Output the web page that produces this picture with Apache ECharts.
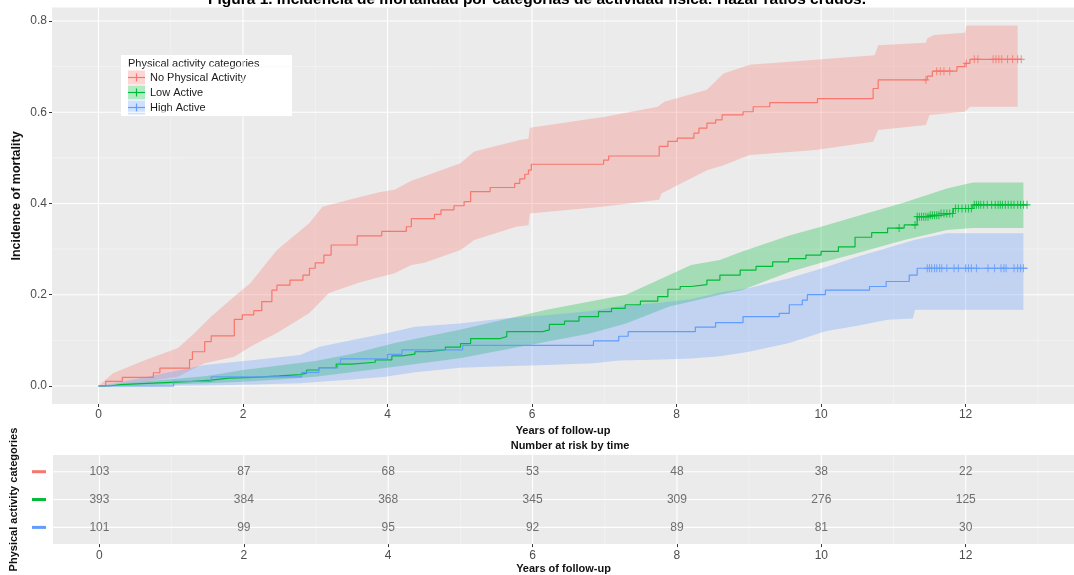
<!DOCTYPE html>
<html><head><meta charset="utf-8">
<script src="https://cdn.jsdelivr.net/npm/echarts@6/dist/echarts.min.js"></script>
<style>html,body{margin:0;padding:0;background:#fff}#c{width:1074px;height:575px}</style>
</head><body><div id="c"></div>
<script>
// ---------- text ----------
const chartTitle = "Figura 1. Incidencia de mortalidad por categorías de actividad física: Hazar ratios crudos.";
const categories = ["No Physical Activity", "Low Active", "High Active"];
const legendTitle = "Physical activity categories";
const yTitle = "Incidence of mortality";
const colors = ["#F8766D", "#00BA38", "#619CFF"];
const bandFills = ["rgba(248,118,109,0.3)", "rgba(0,186,56,0.3)", "rgba(97,156,255,0.3)"];

// ---------- axes ----------
const xMin = -0.643, xMax = 13.5;
const yMin = -0.0395, yMax = 0.8295;
const xMajor = [0, 2, 4, 6, 8, 10, 12];
const xMinor = [1, 3, 5, 7, 9, 11, 13];
const yMajor = [0, 0.2, 0.4, 0.6, 0.8];
const yMinor = [0.1, 0.3, 0.5, 0.7];

// ---------- No Physical Activity ----------
const noPA_t = [0, 0.1, 0.33, 0.76, 0.85, 1.26, 1.3, 1.47, 1.56, 1.88, 1.99, 2.15, 2.26, 2.4, 2.47, 2.65, 2.83, 2.92, 3.0, 3.12, 3.22, 3.58, 3.92, 4.26, 4.33, 4.65, 4.74, 4.92, 5.06, 5.15, 5.42, 5.76, 5.83, 5.9, 5.95, 5.99, 6.99, 7.06, 7.76, 7.88, 8.01, 8.24, 8.31, 8.42, 8.54, 8.63, 8.92, 9.06, 9.29, 9.95, 10.72, 10.79, 11.47, 11.54, 11.88, 11.99, 12.06, 12.77];
const noPA_v = [0, 0.01, 0.019, 0.029, 0.039, 0.058, 0.075, 0.097, 0.11, 0.146, 0.156, 0.165, 0.185, 0.21, 0.221, 0.232, 0.243, 0.258, 0.27, 0.287, 0.309, 0.329, 0.339, 0.349, 0.367, 0.376, 0.386, 0.395, 0.404, 0.426, 0.435, 0.444, 0.454, 0.464, 0.473, 0.486, 0.495, 0.504, 0.525, 0.536, 0.543, 0.554, 0.565, 0.576, 0.583, 0.594, 0.601, 0.612, 0.621, 0.63, 0.652, 0.671, 0.679, 0.69, 0.70, 0.707, 0.716, 0.716];
const noPA_upT = [0, 0.2, 0.65, 1.1, 1.33, 1.56, 1.88, 2.1, 2.47, 2.92, 3.1, 3.51, 3.9, 4.1, 4.33, 4.55, 5.01, 5.2, 5.83, 5.95, 5.97, 7.01, 7.74, 7.83, 8.42, 8.65, 9.01, 9.92, 10.74, 10.79, 11.45, 11.47, 11.56, 11.99, 12.01, 12.72];
const noPA_upV = [0, 0.028, 0.057, 0.083, 0.116, 0.152, 0.196, 0.225, 0.298, 0.357, 0.393, 0.41, 0.425, 0.43, 0.45, 0.462, 0.488, 0.514, 0.539, 0.542, 0.566, 0.59, 0.612, 0.623, 0.649, 0.685, 0.704, 0.715, 0.725, 0.747, 0.752, 0.762, 0.769, 0.774, 0.79, 0.79];
const noPA_loT = [0, 0.2, 0.65, 1.1, 1.28, 1.47, 1.88, 2.1, 2.47, 2.92, 3.19, 3.6, 3.92, 4.1, 4.33, 4.51, 5.01, 5.2, 5.78, 5.95, 5.97, 6.97, 7.76, 7.79, 8.42, 8.65, 9.01, 9.92, 10.72, 10.79, 11.45, 11.5, 11.99, 12.06, 12.72];
const noPA_loV = [0, 0.003, 0.01, 0.02, 0.035, 0.05, 0.064, 0.086, 0.116, 0.16, 0.204, 0.226, 0.24, 0.247, 0.265, 0.27, 0.298, 0.32, 0.349, 0.352, 0.378, 0.393, 0.408, 0.422, 0.473, 0.484, 0.506, 0.517, 0.535, 0.561, 0.572, 0.594, 0.601, 0.612, 0.612];
const noPA_censor = [11.45, 11.6, 11.65, 11.7, 11.78, 12.01, 12.12, 12.17, 12.38, 12.42, 12.46, 12.5, 12.58, 12.65, 12.72, 12.77];

// ---------- Low Active ----------
const low_t = [0, 0.15, 0.3, 0.6, 1.0, 1.3, 1.56, 1.8, 2.15, 2.5, 2.79, 2.88, 3.05, 3.29, 3.5, 3.83, 4.06, 4.2, 4.38, 4.55, 4.8, 5.01, 5.15, 5.56, 5.65, 6.15, 6.24, 6.45, 6.65, 6.92, 7.1, 7.29, 7.5, 7.74, 7.88, 8.05, 8.2, 8.42, 8.6, 8.88, 9.1, 9.33, 9.55, 9.79, 10.0, 10.24, 10.47, 10.7, 10.92, 11.15, 11.33, 11.5, 11.65, 11.83, 12.1, 12.86];
const low_v = [0, 0.003, 0.005, 0.008, 0.01, 0.013, 0.017, 0.019, 0.022, 0.025, 0.028, 0.035, 0.04, 0.048, 0.052, 0.057, 0.066, 0.07, 0.075, 0.079, 0.085, 0.093, 0.104, 0.108, 0.119, 0.123, 0.135, 0.142, 0.152, 0.163, 0.17, 0.178, 0.186, 0.196, 0.212, 0.218, 0.222, 0.232, 0.243, 0.254, 0.262, 0.272, 0.279, 0.287, 0.295, 0.305, 0.326, 0.336, 0.346, 0.353, 0.371, 0.374, 0.378, 0.389, 0.397, 0.397];
const low_upT = [0, 0.5, 1.0, 1.5, 2.0, 2.5, 3.0, 3.5, 4.1, 5.0, 5.6, 6.2, 6.8, 7.3, 7.9, 8.2, 8.6, 8.9, 9.56, 10.0, 10.47, 11.15, 11.74, 12.1, 12.8];
const low_upV = [0, 0.008, 0.015, 0.022, 0.035, 0.045, 0.055, 0.07, 0.094, 0.123, 0.145, 0.167, 0.185, 0.2, 0.243, 0.265, 0.276, 0.294, 0.33, 0.349, 0.371, 0.402, 0.433, 0.446, 0.446];
const low_loT = [0, 0.5, 1.0, 1.5, 2.0, 2.5, 3.0, 3.5, 4.1, 5.0, 5.6, 6.2, 6.8, 7.3, 7.9, 8.2, 8.6, 8.9, 9.56, 10.0, 10.47, 11.15, 11.74, 12.1, 12.8];
const low_loV = [0, 0.001, 0.003, 0.006, 0.009, 0.014, 0.02, 0.03, 0.042, 0.061, 0.079, 0.097, 0.115, 0.137, 0.174, 0.185, 0.2, 0.21, 0.25, 0.27, 0.29, 0.32, 0.342, 0.346, 0.346];
const low_censor = [11.08, 11.3, 11.33, 11.36, 11.39, 11.42, 11.45, 11.48, 11.51, 11.54, 11.57, 11.6, 11.63, 11.66, 11.7, 11.74, 11.78, 11.82, 11.86, 11.9, 11.95, 12.0, 12.04, 12.08, 12.12, 12.15, 12.18, 12.21, 12.25, 12.3, 12.36, 12.41, 12.45, 12.48, 12.51, 12.55, 12.59, 12.63, 12.67, 12.72, 12.76, 12.8, 12.85];

// ---------- High Active ----------
const high_t = [0, 1.04, 1.56, 2.81, 3.05, 3.31, 3.35, 4.0, 4.2, 5.04, 6.85, 7.2, 7.33, 8.26, 8.54, 8.92, 9.42, 9.56, 9.74, 9.81, 10.06, 10.67, 10.9, 11.22, 11.33, 12.86];
const high_v = [0, 0.0099, 0.0198, 0.0297, 0.0396, 0.0495, 0.0594, 0.0693, 0.0792, 0.089, 0.099, 0.109, 0.119, 0.129, 0.139, 0.152, 0.159, 0.178, 0.188, 0.2, 0.21, 0.218, 0.229, 0.243, 0.258, 0.258];
const high_upT = [0, 0.33, 0.79, 1.47, 2.15, 2.79, 3.06, 3.51, 3.97, 4.38, 5.0, 5.6, 6.2, 6.85, 7.2, 7.8, 8.2, 8.6, 9.0, 9.56, 10.06, 10.5, 11.29, 11.74, 12.8];
const high_upV = [0, 0.009, 0.024, 0.046, 0.057, 0.068, 0.086, 0.101, 0.115, 0.13, 0.137, 0.148, 0.155, 0.165, 0.175, 0.183, 0.19, 0.205, 0.215, 0.236, 0.26, 0.283, 0.32, 0.335, 0.335];
const high_loT = [0, 0.33, 0.79, 1.47, 2.15, 2.79, 3.06, 3.51, 3.97, 4.38, 5.0, 5.6, 6.2, 6.85, 7.2, 7.8, 8.2, 8.6, 9.0, 9.56, 10.06, 10.5, 10.92, 11.27, 11.3, 12.8];
const high_loV = [0, 0, 0, 0.001, 0.003, 0.006, 0.009, 0.014, 0.02, 0.03, 0.04, 0.043, 0.046, 0.05, 0.056, 0.058, 0.06, 0.065, 0.075, 0.094, 0.12, 0.132, 0.145, 0.148, 0.167, 0.167];
const high_censor = [11.47, 11.5, 11.53, 11.57, 11.6, 11.64, 11.67, 11.74, 11.84, 11.9, 12.0, 12.04, 12.08, 12.15, 12.31, 12.4, 12.49, 12.53, 12.56, 12.67, 12.72, 12.76, 12.8];

// ---------- risk table ----------
const riskTimes = [0, 2, 4, 6, 8, 10, 12];
const risk_noPA = [103, 87, 68, 53, 48, 38, 22];
const risk_low = [393, 384, 368, 345, 309, 276, 125];
const risk_high = [101, 99, 95, 92, 89, 81, 30];
const riskRows = [3, 2, 1];

// ---------- helpers ----------
const FONT = '"Liberation Sans", Arial, sans-serif';
const plusPath = 'path://M-0.6,-4L0.6,-4L0.6,-0.6L4,-0.6L4,0.6L0.6,0.6L0.6,4L-0.6,4L-0.6,0.6L-4,0.6L-4,-0.6L-0.6,-0.6Z';
function stepAt(ts, vs, t) { let v = vs[0]; for (let i = 0; i < ts.length; i++) { if (ts[i] <= t) v = vs[i]; } return v; }

function vLines(g, values, width, color, lo, hi) {
  return { type: 'custom', xAxisIndex: g, yAxisIndex: g, z: 1, silent: true, clip: true,
    data: values.map(v => [v, lo]),
    renderItem: (p, api) => { const a = api.coord([api.value(0), lo]); const b = api.coord([api.value(0), hi]);
      return { type: 'line', shape: { x1: a[0], y1: a[1], x2: b[0], y2: b[1] }, style: { stroke: color, lineWidth: width } }; } };
}
function hLines(g, values, width, color) {
  return { type: 'custom', xAxisIndex: g, yAxisIndex: g, z: 1, silent: true, clip: true,
    data: values.map(v => [0, v]),
    renderItem: (p, api) => { const a = api.coord([xMin, api.value(1)]); const b = api.coord([xMax, api.value(1)]);
      return { type: 'line', shape: { x1: a[0], y1: a[1], x2: b[0], y2: b[1] }, style: { stroke: color, lineWidth: width } }; } };
}
function band(upT, upV, loT, loV, fill) {
  return { type: 'custom', xAxisIndex: 0, yAxisIndex: 0, z: 2, silent: true, clip: true, data: [[upT[0], upV[0]]],
    renderItem: (p, api) => {
      const pts = [];
      for (let i = 0; i < upT.length; i++) pts.push(api.coord([upT[i], upV[i]]));
      for (let i = loT.length - 1; i >= 0; i--) pts.push(api.coord([loT[i], loV[i]]));
      return { type: 'polygon', shape: { points: pts }, style: { fill: fill } };
    } };
}
function stepLine(ts, vs, color, name) {
  return { type: 'line', name: name, step: 'end', xAxisIndex: 0, yAxisIndex: 0, z: 3, silent: true,
    showSymbol: false, symbol: 'none', data: ts.map((t, i) => [t, vs[i]]), lineStyle: { color: color, width: 1.2 } };
}
function censor(ts, vs, cs, color) {
  return { type: 'scatter', xAxisIndex: 0, yAxisIndex: 0, z: 4, silent: true, symbol: plusPath, symbolSize: [7, 8],
    itemStyle: { color: color }, data: cs.map(t => [t, stepAt(ts, vs, t)]) };
}
function riskText(row, counts) {
  return { type: 'scatter', xAxisIndex: 1, yAxisIndex: 1, z: 4, silent: true, symbolSize: 0,
    data: riskTimes.map((t, i) => [t, row, counts[i]]),
    label: { show: true, position: 'inside', formatter: p => String(p.value[2]), color: '#4D4D4D', fontSize: 12, fontFamily: FONT } };
}

const axisTextStyle = { color: '#4D4D4D', fontSize: 12, fontFamily: FONT };
const nameStyle = { color: '#111', fontSize: 11, fontWeight: 'bold', fontFamily: FONT };

// ---------- legend (graphic) ----------
const legendChildren = [
  { type: 'rect', shape: { x: 0, y: 0, width: 171, height: 61 }, style: { fill: '#fff' } },
  { type: 'text', x: 7, y: 8.5, style: { text: legendTitle, fill: '#1A1A1A', fontSize: 11, fontFamily: FONT, verticalAlign: 'middle' } }
];
categories.forEach((c, i) => {
  const cy = 22.5 + i * 15;
  legendChildren.push({ type: 'rect', shape: { x: 7, y: cy - 7, width: 17, height: 14 }, style: { fill: bandFills[i] } });
  legendChildren.push({ type: 'line', shape: { x1: 7, y1: cy, x2: 24, y2: cy }, style: { stroke: colors[i], lineWidth: 1.2 } });
  legendChildren.push({ type: 'line', shape: { x1: 15.5, y1: cy - 4, x2: 15.5, y2: cy + 4 }, style: { stroke: colors[i], lineWidth: 1.2 } });
  legendChildren.push({ type: 'text', x: 29, y: cy, style: { text: c, fill: '#1A1A1A', fontSize: 11, fontFamily: FONT, verticalAlign: 'middle' } });
});

const chart = echarts.init(document.getElementById('c'), null, { renderer: 'canvas' });
chart.setOption({
  animation: false,
  backgroundColor: '#fff',
  title: [
    { text: chartTitle, left: 'center', top: -13, textStyle: { fontSize: 15.5, fontWeight: 'bold', color: '#000', fontFamily: FONT } },
    { text: 'Number at risk by time', left: 570, textAlign: 'center', top: 440, padding: 0, textStyle: { fontSize: 11, fontWeight: 'bold', color: '#111', fontFamily: FONT } }
  ],
  grid: [
    { left: 52, right: -15, top: 7.5, height: 396.5, show: true, backgroundColor: '#EBEBEB', borderWidth: 0 },
    { left: 52, right: -15, top: 455, height: 95, show: true, backgroundColor: '#EBEBEB', borderWidth: 0 }
  ],
  xAxis: [
    { type: 'value', gridIndex: 0, min: xMin, max: xMax, splitLine: { show: false }, axisLine: { show: false, onZero: false },
      axisTick: { show: true, customValues: xMajor, length: 3, lineStyle: { color: '#333' } },
      axisLabel: { customValues: xMajor, margin: 5, ...axisTextStyle },
      name: 'Years of follow-up', nameLocation: 'middle', nameGap: 16, nameTextStyle: nameStyle },
    { type: 'value', gridIndex: 1, min: xMin, max: xMax, splitLine: { show: false }, axisLine: { show: false, onZero: false },
      axisTick: { show: true, customValues: xMajor, length: 3, lineStyle: { color: '#333' } },
      axisLabel: { customValues: xMajor, margin: 6, ...axisTextStyle },
      name: 'Years of follow-up', nameLocation: 'middle', nameGap: 15, nameTextStyle: nameStyle }
  ],
  yAxis: [
    { type: 'value', gridIndex: 0, min: yMin, max: yMax, splitLine: { show: false }, axisLine: { show: false, onZero: false },
      axisTick: { show: true, customValues: yMajor, length: 3, lineStyle: { color: '#333' } },
      axisLabel: { customValues: yMajor, formatter: v => v.toFixed(1), margin: 5, ...axisTextStyle } },
    { type: 'value', gridIndex: 1, min: 0.4, max: 3.6, splitLine: { show: false }, axisLine: { show: false, onZero: false },
      axisTick: { show: false },
      axisLabel: { customValues: riskRows, margin: 7, formatter: v => ({ 3: '{a|}', 2: '{b|}', 1: '{c|}' })[v] || '',
        rich: { a: { width: 14, height: 3, backgroundColor: colors[0] }, b: { width: 14, height: 3, backgroundColor: colors[1] }, c: { width: 14, height: 3, backgroundColor: colors[2] } } },
      name: 'Physical activity categories', nameLocation: 'middle', nameRotate: 90, nameGap: 34, nameTextStyle: nameStyle }
  ],
  graphic: [
    { type: 'group', left: 121, top: 55, z: 100, children: legendChildren },
    { type: 'text', x: 17, y: 196, rotation: Math.PI / 2, z: 100,
      style: { text: yTitle, align: 'center', verticalAlign: 'middle', fill: '#111', fontSize: 12.5, fontWeight: 'bold', fontFamily: FONT } }
  ],
  series: [
    vLines(0, xMinor, 0.6, '#F7F7F7', yMin, yMax),
    hLines(0, yMinor, 0.6, '#F7F7F7'),
    vLines(0, xMajor, 1.1, '#FFFFFF', yMin, yMax),
    hLines(0, yMajor, 1.1, '#FFFFFF'),
    vLines(1, xMinor, 0.6, '#F7F7F7', 0.4, 3.6),
    vLines(1, xMajor, 1.1, '#FFFFFF', 0.4, 3.6),
    hLines(1, riskRows, 1.1, '#FFFFFF'),
    band(noPA_upT, noPA_upV, noPA_loT, noPA_loV, bandFills[0]),
    band(low_upT, low_upV, low_loT, low_loV, bandFills[1]),
    band(high_upT, high_upV, high_loT, high_loV, bandFills[2]),
    stepLine(noPA_t, noPA_v, colors[0], categories[0]),
    stepLine(low_t, low_v, colors[1], categories[1]),
    stepLine(high_t, high_v, colors[2], categories[2]),
    censor(noPA_t, noPA_v, noPA_censor, colors[0]),
    censor(low_t, low_v, low_censor, colors[1]),
    censor(high_t, high_v, high_censor, colors[2]),
    riskText(riskRows[0], risk_noPA),
    riskText(riskRows[1], risk_low),
    riskText(riskRows[2], risk_high)
  ]
});
</script></body></html>
